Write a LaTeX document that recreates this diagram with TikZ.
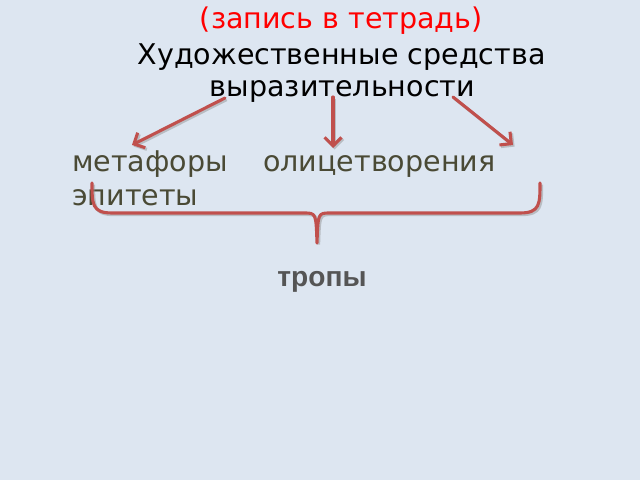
\documentclass[tikz,border=0pt]{standalone}
\usepackage{fontspec}
\setmainfont{DejaVu Sans}
\newfontfamily\tropfont{Liberation Sans}
\usetikzlibrary{arrows.meta}
\definecolor{bgblue}{HTML}{DDE6F1}
\definecolor{tiered}{HTML}{C0504D}
\definecolor{itemtext}{HTML}{4A4A35}
\definecolor{troptext}{HTML}{555555}
\tikzset{
  bigtext/.style={font=\fontsize{20.3}{24}\selectfont, inner sep=0pt, anchor=base},
  itemword/.style={bigtext, text=itemtext, anchor=base west},
  tieline/.style={draw=tiered, line width=2.2pt, line cap=round, line join=round,
    preaction={draw=black!45, opacity=0.45, line width=2.2pt,
      transform canvas={shift={(0.04,-0.04)}}}},
  tiearrow/.style={tieline, -{Straight Barb[length=6pt,width=12pt,line width=2.2pt]}}
}
\begin{document}
\begin{tikzpicture}
    \fill[bgblue](0,0) rectangle (16,12);
    \useasboundingbox (0,0) rectangle (16,12);
    \node[bigtext, text=red] (title) at (8.53,11.275) {(запись в тетрадь)};
    \node[bigtext] (head1) at (8.54,10.375) {Художественные средства};
    \node[bigtext] (head2) at (8.56,9.575) {выразительности};
    \node[itemword] (metaphor) at (1.8,7.725) {метафоры};
    \node[itemword] (personif) at (6.575,7.725) {олицетворения};
    \node[itemword] (epithet) at (1.8,6.875) {эпитеты};
    \node[font=\tropfont\bfseries\fontsize{20}{23}\selectfont, text=troptext, inner sep=0pt, anchor=base] (tropes) at (8.05,4.85) {тропы};
    \coordinate (from1) at (5.625,9.55);
    \coordinate (from2) at (8.325,9.575);
    \coordinate (from3) at (11.325,9.575);
    \coordinate (to1) at (3.3,8.375);
    \coordinate (to2) at (8.325,8.3);
    \coordinate (to3) at (12.825,8.375);
    \draw[tiearrow](from1)--(to1);
    \draw[tiearrow](from2)--(to2);
    \draw[tiearrow](from3)--(to3);
    \coordinate (braceL) at (2.3,7.425);
    \coordinate (braceR) at (13.5,7.425);
    \coordinate (braceTip) at (7.925,5.925);
    \draw[tieline](braceL) .. controls (2.3,6.9) and (2.3,6.675) .. (2.8,6.675)
        -- (7.6,6.675) .. controls (7.9,6.675) .. (braceTip)
        .. controls (7.95,6.675) .. (8.25,6.675)
        -- (13.0,6.675) .. controls (13.5,6.675) and (13.5,6.9) .. (braceR);
\end{tikzpicture}
\end{document}
